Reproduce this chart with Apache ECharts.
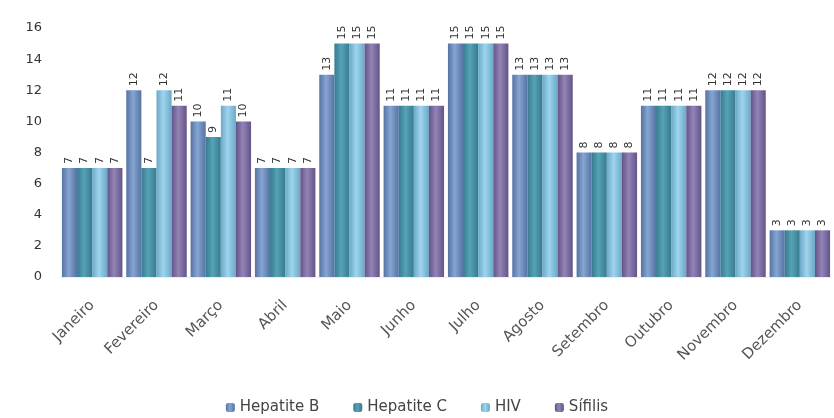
<!DOCTYPE html>
<html><head><meta charset="utf-8">
<script src="https://cdn.jsdelivr.net/npm/echarts@6/dist/echarts.min.js"></script>
<style>html,body{margin:0;padding:0;background:#fff}#c{width:834px;height:418px}</style>
</head><body><div id="c"></div>
<script>
var categories = ['Janeiro','Fevereiro','Março','Abril','Maio','Junho','Julho','Agosto','Setembro','Outubro','Novembro','Dezembro'];
var hepatiteB = [7,12,10,7,13,11,15,13,8,11,12,3];
var hepatiteC = [7,7,9,7,15,11,15,13,8,11,12,3];
var hiv = [7,12,11,7,15,11,15,13,8,11,12,3];
var sifilis = [7,11,10,7,15,11,15,13,8,11,12,3];
var yTicks = [0,2,4,6,8,10,12,14,16];

function grad(edge, mid) {
  return new echarts.graphic.LinearGradient(0,0,1,0,[
    {offset:0,color:edge},{offset:0.45,color:mid},{offset:1,color:edge}]);
}
function mk(name, data, edge, mid) {
  return {
    name: name, type: 'bar', data: data,
    barGap: '0%', barCategoryGap: '6%',
    itemStyle: { color: grad(edge, mid) },
    label: { show: true, position: 'top', rotate: 90, align: 'left', verticalAlign: 'middle',
      distance: 4, fontSize: 11, color: '#333', fontFamily: 'DejaVu Sans' }
  };
}
var chart = echarts.init(document.getElementById('c'));
chart.setOption({
  animation: false,
  color: ['#6f8fc0','#4a93a8','#8ec6e2','#7e6ea2'],
  grid: { left: 60, right: 2, top: 28, bottom: 141 },
  legend: { bottom: -2, left: 'center', itemWidth: 9, itemHeight: 9, itemGap: 34,
    textStyle: { fontSize: 15, color: '#444', fontFamily: 'DejaVu Sans' },
    data: ['Hepatite B','Hepatite C','HIV','Sífilis'] },
  xAxis: { type: 'category', data: categories,
    axisLine: { show: true, lineStyle: { color: '#e8eef4' } }, axisTick: { show: false },
    axisLabel: { rotate: 45, interval: 0, fontSize: 15, color: '#555', fontFamily: 'DejaVu Sans', margin: 26 } },
  yAxis: { type: 'value', min: 0, max: 16, interval: 2,
    splitLine: { show: false }, axisLine: { show: false }, axisTick: { show: false },
    axisLabel: { fontSize: 13, color: '#333', margin: 18, fontFamily: 'DejaVu Sans',
      formatter: function(v){ return yTicks.indexOf(v) >= 0 ? String(v) : ''; } } },
  series: [
    mk('Hepatite B', hepatiteB, '#5573a3', '#86a5d2'),
    mk('Hepatite C', hepatiteC, '#387a90', '#55a3b6'),
    mk('HIV', hiv, '#6aa9c9', '#9fd4ec'),
    mk('Sífilis', sifilis, '#62538a', '#9484b4')
  ]
});
</script></body></html>
